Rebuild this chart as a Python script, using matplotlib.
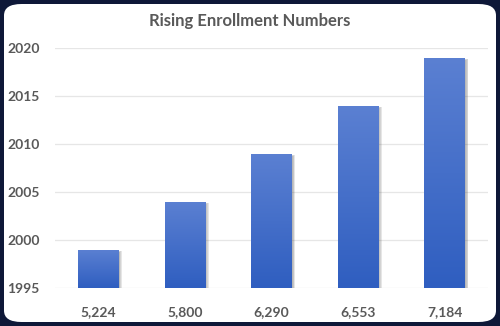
import numpy as np
import matplotlib
matplotlib.use("Agg")
import matplotlib.pyplot as plt
from matplotlib.patches import FancyBboxPatch, Rectangle
from matplotlib.colors import LinearSegmentedColormap

categories = ["5,224", "5,800", "6,290", "6,553", "7,184"]
values = [1999, 2004, 2009, 2014, 2019]
yticks = [1995, 2000, 2005, 2010, 2015, 2020]
title = "Rising Enrollment Numbers"

plt.rcParams['font.family'] = ['Lato', 'DejaVu Sans']
W, H = 500, 326
fig = plt.figure(figsize=(W/100, H/100), dpi=100)
fig.patch.set_facecolor('#0e1838')

# white rounded panel
panel = FancyBboxPatch((4/W, 4/H), 492/W, 318/H,
                       boxstyle="round,pad=0,rounding_size=0.035",
                       transform=fig.transFigure, facecolor='white',
                       edgecolor='none', zorder=-10)
fig.patches.append(panel)

ax = fig.add_axes([55/W, (H-288)/H, 433/W, 240/H], zorder=1)
ax.set_facecolor('none')
ax.set_ylim(1995, 2020)
ax.set_xlim(-0.5, len(categories)-0.5)
ax.set_yticks(yticks)
ax.set_yticklabels([str(t) for t in yticks], fontsize=10, fontweight='bold', color='#595959')
ax.set_xticks(range(len(categories)))
ax.set_xticklabels(categories, fontsize=10, fontweight='bold', color='#595959')
ax.tick_params(axis='x', length=0, pad=13)
ax.tick_params(axis='y', length=0, pad=11)
for s in ax.spines.values():
    s.set_visible(False)
ax.grid(axis='y', color='#e6e6e6', linewidth=0.9, zorder=0)
ax.set_axisbelow(True)

width = 0.47
grad = np.linspace(0, 1, 256).reshape(-1, 1)
cmap = LinearSegmentedColormap.from_list('g', ['#2f5ec0', '#5b80d2'])
bars = ax.bar(range(len(categories)), np.array(values) - 1995, bottom=1995,
              width=width, color='none', zorder=3)
for b in bars:
    x0, y0 = b.get_x(), b.get_y()
    w, h = b.get_width(), b.get_height()
    for k, a in enumerate([0.10, 0.10, 0.12, 0.14]):
        off = 0.012 + k*0.009
        ax.add_patch(Rectangle((x0 + off, y0), w, h - 0.25 + k*0.05,
                               facecolor='#505050', alpha=a, edgecolor='none',
                               zorder=2))
    im = ax.imshow(grad, extent=[x0, x0+w, y0, y0+h], origin='lower',
                   cmap=cmap, aspect='auto', zorder=3)
    im.set_clip_path(b)

ax.set_xlim(-0.5, len(categories)-0.5)
ax.set_ylim(1995, 2020)

fig.text(0.5, 1 - 21/H, title, ha='center', va='center', fontsize=12,
         fontweight='bold', color='#595959')

fig.savefig('out.png', dpi=100, facecolor=fig.get_facecolor())
